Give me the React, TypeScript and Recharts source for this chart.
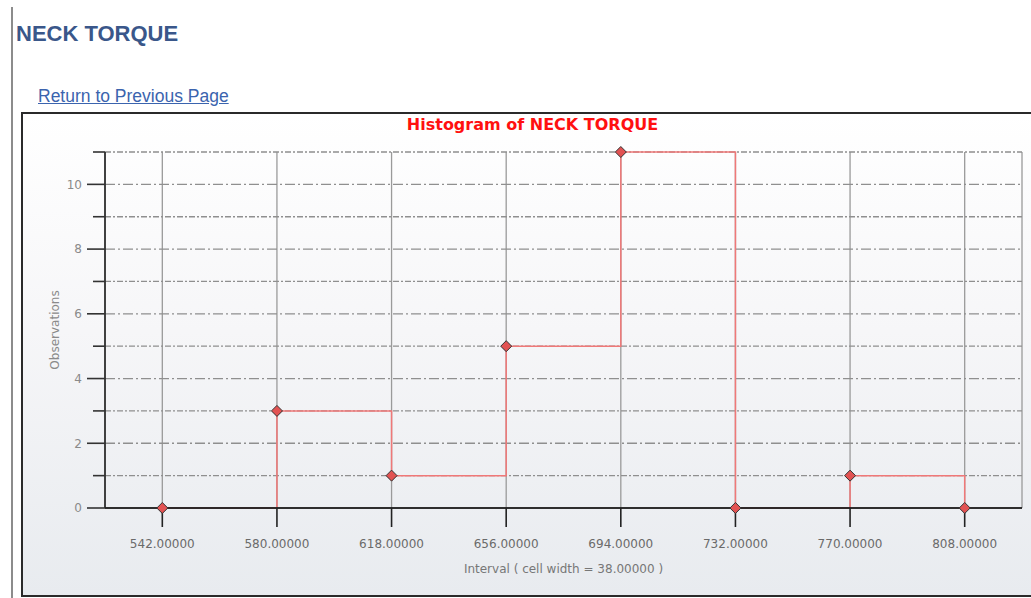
import React from 'react';
import { LineChart, Line, XAxis, YAxis, CartesianGrid, ReferenceLine } from 'recharts';

const pageTitle = 'NECK TORQUE';
const linkText = 'Return to Previous Page';
const chartTitle = 'Histogram of NECK TORQUE';
const xAxisTitle = 'Interval ( cell width = 38.00000 )';
const yAxisTitle = 'Observations';

const intervals = [542, 580, 618, 656, 694, 732, 770, 808];
const observations = [0, 3, 1, 5, 11, 0, 1, 0];
const cellWidth = 38;
const yTicks = [0, 1, 2, 3, 4, 5, 6, 7, 8, 9, 10, 11];
const yMajorGrid = [2, 4, 6, 8, 10];
const yMinorGrid = [1, 3, 5, 7, 9, 11];

const data = intervals.map((x, i) => ({ x, y: observations[i] }));

const FONT = '"DejaVu Sans", Verdana, sans-serif';

const YTick = (props: any) => {
  const { x, y, payload } = props;
  const v = payload.value as number;
  const major = v % 2 === 0;
  return (
    <g>
      <line x1={x - (major ? 18 : 12)} x2={x} y1={y} y2={y} stroke="#333" strokeWidth={1.6} />
      {major && (
        <text x={x - 23} y={y} dy="0.36em" textAnchor="end" fontSize={12} fill="#8a8a8a" fontFamily={FONT}>
          {v}
        </text>
      )}
    </g>
  );
};

const Diamond = (props: any) => {
  const { cx, cy } = props;
  if (cx == null || cy == null) return null;
  const r = 5.5;
  return (
    <path
      d={`M${cx},${cy - r} L${cx + r},${cy} L${cx},${cy + r} L${cx - r},${cy} Z`}
      fill="#e25252"
      stroke="#333"
      strokeWidth={1}
    />
  );
};

const YLabel = (props: any) => {
  const vb = props.viewBox || {};
  const x = (vb.x ?? 0) + 34;
  const y = (vb.y ?? 0) + (vb.height ?? 0) / 2;
  return (
    <text
      x={x}
      y={y}
      dy="0.36em"
      transform={`rotate(-90, ${x}, ${y})`}
      textAnchor="middle"
      fontSize={12}
      fill="#8a8a8a"
      fontFamily={FONT}
    >
      {yAxisTitle}
    </text>
  );
};

const XLabel = (props: any) => {
  const vb = props.viewBox || {};
  const x = (vb.x ?? 0) + (vb.width ?? 0) / 2;
  const y = (vb.y ?? 0) + 65;
  return (
    <text x={x} y={y} textAnchor="middle" fontSize={12} fill="#777" fontFamily={FONT}>
      {xAxisTitle}
    </text>
  );
};

export default function App() {
  return (
    <div
      style={{
        position: 'absolute',
        left: 0,
        top: 0,
        width: 1031,
        height: 598,
        overflow: 'hidden',
        background: '#fff',
      }}
    >
      <div style={{ position: 'absolute', left: 11, top: 7, width: 1.5, height: 600, background: '#8c8c8c' }} />
      <div
        style={{
          position: 'absolute',
          left: 16,
          top: 21,
          fontFamily: '"Liberation Sans", Arial, sans-serif',
          fontWeight: 'bold',
          fontSize: 22,
          lineHeight: '26px',
          color: '#3a578a',
          whiteSpace: 'nowrap',
        }}
      >
        {pageTitle}
      </div>
      <div
        style={{
          position: 'absolute',
          left: 38,
          top: 87,
          fontFamily: '"Liberation Sans", Arial, sans-serif',
          fontSize: 17.5,
          lineHeight: '19px',
          color: '#3b64ae',
          textDecoration: 'underline',
          whiteSpace: 'nowrap',
        }}
      >
        {linkText}
      </div>
      <div
        style={{
          position: 'absolute',
          left: 21,
          top: 112,
          width: 1030,
          height: 485,
          boxSizing: 'border-box',
          border: '2px solid #2a2a2a',
          background: 'linear-gradient(to bottom, #ffffff 0%, #f6f6f8 45%, #e8ebef 100%)',
        }}
      />
      <div
        style={{
          position: 'absolute',
          left: 21,
          top: 115,
          width: 1023,
          textAlign: 'center',
          fontFamily: FONT,
          fontWeight: 'bold',
          fontSize: 16,
          lineHeight: '20px',
          color: '#ff1010',
          whiteSpace: 'nowrap',
        }}
      >
        {chartTitle}
      </div>
      <div style={{ position: 'absolute', left: 21, top: 112 }}>
        <LineChart width={1030} height={484} data={data} margin={{ top: 40, right: 29, bottom: 0, left: 0 }}>
          <CartesianGrid horizontal={false} vertical={true} stroke="#9a9a9a" strokeWidth={1.3} />
          <CartesianGrid
            vertical={false}
            horizontalValues={yMajorGrid}
            stroke="#8f8f8f"
            strokeWidth={1.3}
            strokeDasharray="10 3 2 3"
          />
          <CartesianGrid
            vertical={false}
            horizontalValues={yMinorGrid}
            stroke="#8f8f8f"
            strokeWidth={1.3}
            strokeDasharray="6 2 2 2"
          />
          <XAxis
            type="number"
            dataKey="x"
            domain={[intervals[0] - cellWidth / 2, intervals[intervals.length - 1] + cellWidth / 2]}
            ticks={intervals}
            interval={0}
            tickFormatter={(v: number) => v.toFixed(5)}
            height={88}
            tickSize={19}
            tickMargin={12}
            axisLine={{ stroke: '#222', strokeWidth: 1.6 }}
            tickLine={{ stroke: '#222', strokeWidth: 1.6 }}
            tick={{ fontSize: 12, fill: '#6a6a6a', fontFamily: FONT }}
            label={<XLabel />}
          />
          <YAxis
            type="number"
            domain={[0, 11]}
            ticks={yTicks}
            interval={0}
            width={84}
            tickSize={0}
            tickMargin={0}
            tickLine={false}
            axisLine={{ stroke: '#222', strokeWidth: 1.6 }}
            tick={<YTick />}
            label={<YLabel />}
          />
          <Line
            type="stepAfter"
            dataKey="y"
            stroke="#f07878"
            strokeWidth={1.5}
            dot={<Diamond />}
            activeDot={false}
            isAnimationActive={false}
          />
          <ReferenceLine y={0} stroke="#222" strokeWidth={1.6} ifOverflow="visible" />
        </LineChart>
      </div>
    </div>
  );
}
